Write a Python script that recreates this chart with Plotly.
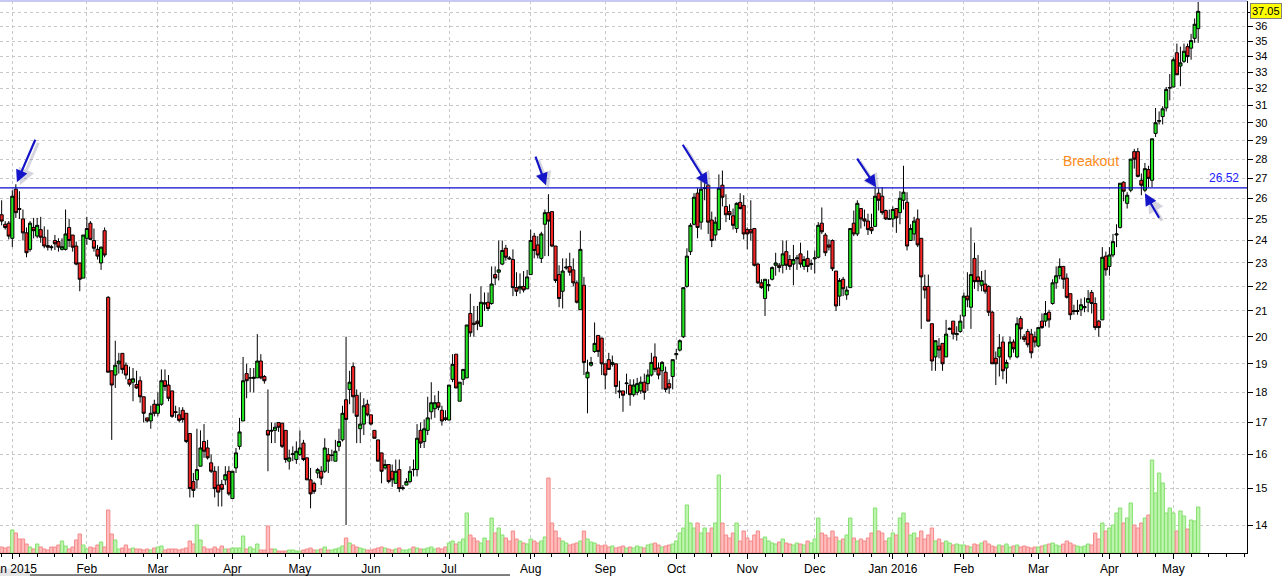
import math
import plotly.graph_objects as go

# 交易日數（每月），第一段為 2014 年 12 月最後三天
sessions_per_month = [3, 21, 20, 21, 19, 20, 22, 23, 21, 20, 20, 19, 22, 20, 21, 20, 18, 8]
month_labels = ['Jan 2015', 'Feb', 'Mar', 'Apr', 'May', 'Jun', 'Jul', 'Aug', 'Sep', 'Oct',
                'Nov', 'Dec', 'Jan 2016', 'Feb', 'Mar', 'Apr', 'May']
price_ticks = list(range(14, 38))

opens = [
    25.2, 24.75, 24.8, 24.1, 26.45, 25.5, 25.0, 24.35, 23.6, 24.6,
    24.2, 24.5, 24.15, 23.77, 23.72, 24.0, 23.95, 23.6, 23.6, 24.6,
    24.25, 23.75, 23.0, 22.35, 24.1, 24.8, 24.0, 23.6, 23.0, 24.45,
    21.55, 18.75, 18.6, 19.0, 19.38, 18.95, 18.45, 18.35, 18.27, 18.4,
    17.85, 17.15, 17.05, 17.6, 17.3, 17.6, 18.4, 18.25, 18.05, 17.35,
    17.25, 17.4, 17.3, 16.65, 15.2, 15.25, 15.65, 16.4, 16.2, 15.75,
    15.5, 15.1, 15.12, 15.25, 15.5, 14.72, 15.6, 16.25, 17.05, 18.65,
    18.5, 18.48, 18.5, 19.1, 18.55, 16.75, 16.75, 16.75, 17.0, 16.98,
    16.75, 15.8, 16.0, 15.85, 16.0, 16.35, 15.9, 15.25, 15.15, 15.45,
    15.5, 15.5, 16.0, 15.97, 15.8, 16.25, 16.45, 17.75, 18.1, 18.9,
    17.9, 16.8, 16.95, 17.6, 17.25, 16.75, 16.45, 16.05, 15.6, 15.7,
    15.5, 15.15, 15.55, 15.0, 15.1, 15.2, 15.56, 15.55, 16.75, 16.4,
    16.75, 17.35, 17.45, 17.65, 17.4, 17.15, 17.08, 18.45, 19.35, 17.7,
    18.45, 18.5, 20.9, 20.52, 20.6, 20.4, 21.28, 21.35, 21.3, 22.5,
    22.6, 22.95, 23.65, 23.22, 23.15, 21.95, 21.9, 22.0, 21.9, 22.5,
    24.2, 23.8, 23.2, 24.75, 25.3, 25.35, 23.75, 22.5, 21.8, 22.78,
    22.85, 22.7, 22.15, 21.05, 22.05, 18.5, 18.95, 19.45, 20.05, 19.95,
    19.0, 19.15, 18.98, 19.0, 18.05, 18.05, 18.3, 18.25, 17.92, 18.0,
    18.05, 18.35, 18.3, 18.6, 19.25, 18.85, 18.75, 18.7, 18.3, 18.55,
    19.33, 19.5, 20.0, 22.0, 23.5, 24.75, 26.25, 24.85, 26.48, 26.65,
    24.95, 24.25, 24.5, 26.65, 25.6, 25.35, 25.15, 24.55, 25.8, 25.65,
    24.5, 24.5, 24.55, 22.95, 22.15, 21.5, 22.03, 22.3, 22.9, 22.9,
    22.9, 23.5, 23.15, 22.95, 23.18, 23.4, 22.85, 23.2, 22.93, 23.18,
    23.25, 24.8, 24.25, 23.8, 24.0, 22.65, 21.6, 22.3, 21.65, 21.95,
    24.8, 24.3, 25.5, 25.0, 24.9, 24.6, 24.65, 26.25, 26.1, 25.4,
    24.98, 25.0, 25.5, 25.3, 25.9, 25.8, 24.0, 24.3, 25.0, 24.1,
    22.0, 22.0, 20.5, 19.25, 19.65, 19.75, 19.25, 20.28, 20.6, 20.08,
    20.2, 20.8, 21.6, 21.15, 23.2, 22.4, 22.05, 22.1, 22.0, 20.95,
    19.2, 19.25, 19.8, 18.85, 19.25, 19.8, 19.25, 20.7, 20.0, 20.2,
    20.1, 20.0, 19.65, 20.6, 20.6, 20.95, 21.3, 22.15, 22.45, 22.85,
    22.35, 21.7, 21.02, 20.98, 21.05, 21.13, 21.35, 21.75, 21.3, 20.6,
    20.65, 23.3, 22.85, 23.35, 24.25, 24.6, 26.8, 25.75, 26.4, 28.4,
    28.4, 26.9, 26.4, 27.45, 26.9, 29.4, 30.08, 30.35, 30.85, 32.03,
    32.1, 34.25, 33.4, 33.7, 34.65, 34.55, 35.2, 35.85,
]

highs = [
    25.9, 24.9, 24.9, 26.4, 26.7, 26.35, 25.45, 24.6, 24.9, 25.05,
    25.05, 25.1, 24.65, 24.5, 23.8, 24.25, 24.1, 24.1, 25.45, 25.0,
    24.25, 23.95, 23.0, 24.25, 25.1, 24.9, 24.55, 23.8, 23.72, 24.6,
    21.6, 18.75, 19.85, 19.4, 19.38, 19.05, 18.9, 18.85, 18.75, 18.55,
    17.85, 17.15, 17.55, 17.75, 18.0, 18.8, 18.8, 18.6, 18.05, 17.55,
    17.5, 17.5, 17.3, 16.65, 15.45, 16.8, 16.75, 16.95, 16.45, 16.0,
    15.65, 15.65, 15.25, 15.65, 15.65, 15.5, 16.2, 17.15, 19.25, 19.0,
    18.85, 18.85, 20.1, 19.35, 18.6, 18.1, 17.0, 17.0, 17.0, 16.98,
    16.75, 16.15, 16.25, 16.4, 16.75, 16.45, 15.9, 15.6, 15.2, 15.6,
    15.65, 16.5, 16.2, 16.15, 16.45, 16.8, 17.55, 20.0, 18.75, 19.05,
    18.1, 18.0, 17.8, 17.75, 17.25, 16.75, 16.45, 16.05, 15.85, 15.7,
    15.7, 15.85, 15.85, 15.1, 15.3, 15.65, 15.85, 16.95, 17.0, 17.1,
    17.85, 18.35, 17.9, 18.05, 17.55, 17.4, 18.25, 19.35, 19.35, 18.35,
    18.8, 20.45, 21.7, 21.2, 21.2, 22.0, 21.75, 21.75, 22.85, 22.85,
    24.0, 24.0, 23.8, 23.3, 23.6, 22.6, 22.55, 22.65, 22.7, 24.5,
    24.35, 24.2, 24.4, 25.45, 26.2, 25.35, 23.75, 22.9, 23.2, 23.2,
    23.45, 23.2, 22.25, 24.45, 22.4, 19.15, 19.25, 20.55, 20.05, 19.95,
    19.0, 19.4, 19.3, 19.0, 18.4, 18.05, 18.65, 18.45, 18.45, 18.5,
    18.55, 18.65, 18.8, 19.4, 19.75, 19.05, 19.1, 18.9, 18.45, 19.15,
    19.55, 19.9, 21.95, 23.65, 24.8, 26.25, 26.5, 26.9, 27.0, 26.7,
    25.35, 25.1, 27.2, 27.4, 26.2, 25.7, 25.5, 25.8, 26.25, 26.15,
    24.6, 25.9, 24.55, 23.0, 22.3, 22.3, 22.3, 22.85, 23.45, 23.0,
    24.0, 24.0, 23.35, 23.8, 23.35, 23.9, 23.3, 23.55, 23.15, 23.55,
    24.85, 25.55, 24.35, 24.05, 24.05, 22.65, 22.35, 22.4, 22.0, 24.55,
    25.4, 25.9, 25.5, 25.45, 25.25, 25.25, 26.55, 26.5, 26.55, 25.45,
    25.45, 25.6, 25.5, 26.35, 27.65, 26.3, 24.75, 25.1, 25.45, 24.1,
    22.5, 22.5, 20.5, 19.85, 19.95, 19.75, 20.65, 20.35, 20.6, 20.4,
    20.85, 21.75, 22.6, 24.6, 23.9, 23.35, 22.65, 22.7, 22.05, 21.0,
    19.45, 20.1, 20.0, 19.15, 20.0, 19.9, 20.75, 20.8, 20.1, 20.3,
    20.3, 20.2, 20.35, 20.9, 21.4, 21.05, 22.3, 22.85, 23.2, 22.85,
    22.55, 21.7, 21.25, 21.45, 21.5, 21.55, 21.85, 21.85, 21.55, 20.65,
    23.7, 23.5, 23.7, 24.3, 24.75, 26.75, 26.85, 26.3, 28.0, 28.55,
    28.6, 27.25, 27.8, 27.65, 29.1, 30.85, 30.65, 30.95, 32.1, 32.9,
    33.95, 34.85, 34.65, 34.85, 34.85, 35.5, 36.55, 37.75,
]

lows = [
    24.7, 24.5, 24.05, 23.7, 25.05, 25.0, 24.0, 23.25, 23.5, 24.1,
    24.1, 23.9, 23.65, 23.55, 23.55, 23.57, 23.5, 23.55, 23.55, 23.7,
    23.5, 22.9, 21.8, 22.35, 23.8, 24.05, 23.5, 23.15, 22.7, 23.25,
    18.7, 16.45, 18.15, 18.65, 18.65, 18.45, 18.2, 17.7, 18.12, 17.65,
    17.0, 17.0, 16.8, 17.2, 17.2, 17.55, 18.05, 17.7, 17.15, 17.15,
    17.0, 17.0, 16.35, 14.75, 14.75, 15.0, 15.65, 15.9, 15.85, 15.45,
    14.75, 14.5, 14.5, 15.1, 14.8, 14.72, 15.45, 16.15, 17.05, 17.8,
    18.0, 18.0, 18.5, 18.45, 18.3, 15.5, 16.35, 16.35, 16.7, 16.2,
    15.75, 15.55, 15.8, 15.72, 15.95, 15.8, 15.25, 14.45, 14.85, 15.3,
    15.1, 15.45, 15.45, 15.8, 15.8, 16.1, 16.4, 14.0, 17.6, 17.3,
    16.35, 16.35, 16.6, 17.2, 16.9, 16.5, 15.8, 15.15, 15.55, 15.15,
    15.05, 15.15, 14.9, 14.95, 15.1, 15.15, 15.35, 15.35, 16.2, 16.2,
    16.6, 17.1, 17.15, 17.4, 16.9, 17.05, 17.08, 18.35, 18.15, 17.7,
    18.25, 18.5, 20.0, 20.0, 20.25, 20.4, 21.0, 21.0, 21.25, 22.05,
    22.25, 22.9, 23.1, 23.15, 21.6, 21.6, 21.7, 21.75, 21.9, 22.5,
    23.2, 23.2, 23.0, 23.3, 23.3, 23.7, 22.15, 21.15, 21.1, 22.7,
    22.45, 22.0, 21.3, 21.05, 18.6, 17.3, 18.9, 19.4, 19.25, 18.6,
    18.1, 18.8, 18.9, 17.95, 17.8, 17.35, 17.95, 17.55, 17.85, 17.9,
    17.95, 17.75, 18.05, 18.55, 18.7, 18.45, 18.1, 18.0, 17.95, 18.1,
    19.15, 19.45, 19.95, 21.95, 23.35, 24.7, 24.1, 24.5, 25.9, 24.3,
    23.7, 24.0, 24.45, 25.6, 24.85, 24.95, 24.5, 24.35, 25.45, 24.05,
    23.6, 24.0, 22.85, 22.1, 21.9, 20.8, 21.8, 22.25, 22.45, 22.6,
    22.55, 22.7, 22.7, 22.05, 22.7, 22.8, 22.7, 22.6, 22.7, 22.55,
    23.2, 24.3, 23.3, 23.55, 22.65, 21.0, 21.2, 21.6, 21.45, 21.95,
    24.2, 24.2, 24.55, 24.65, 24.25, 24.3, 24.65, 25.4, 25.2, 24.95,
    24.95, 24.6, 24.35, 24.75, 25.45, 23.55, 24.0, 24.0, 23.7, 20.3,
    21.5, 20.6, 18.75, 18.75, 19.2, 18.75, 19.25, 20.25, 19.9, 19.85,
    20.15, 20.3, 21.15, 20.3, 21.9, 21.8, 21.8, 21.7, 20.8, 19.0,
    18.25, 18.55, 18.45, 18.3, 19.15, 19.4, 19.2, 19.9, 19.8, 19.6,
    19.2, 19.6, 19.6, 20.3, 20.4, 20.35, 21.25, 21.9, 22.3, 21.9,
    21.5, 20.65, 20.85, 20.85, 20.8, 20.95, 20.95, 20.9, 20.25, 20.0,
    20.65, 22.45, 22.45, 23.25, 23.7, 24.55, 25.85, 25.5, 26.3, 27.5,
    27.05, 26.15, 26.3, 26.55, 26.55, 29.2, 29.9, 29.9, 30.65, 31.3,
    32.1, 32.85, 32.15, 33.6, 33.6, 33.8, 34.9, 34.9,
]

closes = [
    24.9, 24.6, 24.2, 26.1, 25.3, 25.45, 24.35, 23.45, 24.8, 24.45,
    24.7, 24.15, 23.75, 23.7, 23.68, 23.85, 23.7, 23.72, 24.3, 24.0,
    23.7, 22.95, 22.3, 24.25, 24.55, 24.05, 23.65, 23.3, 23.7, 23.35,
    18.7, 18.25, 18.95, 19.1, 18.8, 18.6, 18.28, 18.47, 18.15, 17.85,
    17.3, 17.05, 17.3, 17.3, 17.6, 18.4, 18.2, 17.8, 17.2, 17.33,
    17.07, 17.1, 16.4, 15.0, 14.95, 15.55, 16.2, 16.1, 15.9, 15.5,
    15.0, 14.9, 14.98, 15.4, 14.85, 15.5, 16.05, 16.7, 18.4, 18.4,
    18.5, 18.52, 19.1, 18.5, 18.4, 16.6, 16.73, 16.85, 16.85, 16.25,
    15.85, 15.9, 16.02, 16.1, 16.2, 15.85, 15.25, 14.85, 14.92, 15.55,
    15.3, 16.2, 15.8, 15.98, 16.1, 16.4, 17.3, 17.1, 18.35, 17.85,
    17.2, 16.95, 17.55, 17.25, 16.95, 16.5, 15.8, 15.5, 15.7, 15.2,
    15.25, 15.5, 15.0, 15.02, 15.2, 15.5, 15.55, 16.5, 16.35, 16.8,
    17.15, 17.65, 17.65, 17.5, 17.05, 17.1, 18.25, 18.98, 18.15, 18.35,
    18.8, 20.45, 20.15, 20.48, 20.5, 21.35, 21.32, 21.1, 22.1, 22.35,
    22.7, 23.55, 23.25, 23.18, 21.95, 21.8, 22.0, 21.85, 22.4, 24.0,
    23.55, 23.35, 24.3, 25.3, 24.9, 23.75, 22.25, 21.5, 22.65, 22.82,
    22.6, 22.15, 21.35, 23.6, 19.05, 18.7, 19.05, 19.75, 19.45, 19.0,
    18.6, 18.8, 19.05, 18.2, 18.02, 17.9, 18.32, 17.92, 18.25, 18.3,
    18.35, 18.0, 18.6, 19.05, 18.8, 18.6, 19.05, 18.1, 18.15, 19.15,
    19.37, 19.85, 21.95, 23.3, 24.7, 26.05, 24.6, 26.45, 26.52, 24.85,
    24.0, 24.85, 26.5, 26.05, 25.2, 25.2, 24.7, 25.75, 25.5, 24.3,
    24.3, 24.35, 22.9, 22.15, 21.95, 22.3, 22.07, 22.8, 23.0, 22.8,
    23.4, 22.9, 22.85, 23.15, 23.22, 22.95, 23.15, 22.85, 22.97, 23.22,
    24.7, 24.4, 23.45, 23.7, 22.75, 21.2, 22.25, 21.9, 21.85, 24.55,
    24.3, 25.75, 25.0, 24.9, 24.5, 24.45, 26.1, 25.9, 25.3, 25.0,
    25.02, 25.45, 25.05, 26.0, 26.3, 23.75, 24.55, 24.9, 23.8, 22.4,
    21.85, 20.6, 19.1, 19.85, 19.5, 19.0, 20.1, 20.32, 20.1, 20.12,
    20.6, 21.6, 21.45, 22.5, 22.2, 22.2, 22.25, 21.8, 20.95, 19.0,
    19.0, 19.6, 18.75, 19.05, 19.8, 19.55, 20.5, 20.3, 19.9, 19.7,
    19.4, 19.8, 20.35, 20.35, 20.9, 20.65, 22.15, 22.45, 22.85, 22.3,
    21.55, 20.85, 20.98, 21.02, 21.25, 21.17, 21.5, 21.3, 20.35, 20.35,
    23.25, 22.7, 23.35, 23.95, 24.3, 26.75, 26.35, 26.15, 28.0, 28.0,
    27.1, 26.65, 27.5, 27.0, 29.1, 30.0, 30.12, 30.8, 31.95, 32.07,
    33.8, 32.85, 33.6, 34.35, 34.0, 35.05, 36.15, 37.05,
]

# 成交量（萬股）
volumes = [
    6, 5, 6, 23, 20, 14, 14, 9, 6, 4, 9, 6, 4, 3, 6, 6, 8, 12, 7, 4,
    6, 13, 19, 8, 4, 6, 5, 8, 11, 6, 43, 19, 13, 4, 5, 8, 4, 5, 4, 4,
    3, 4, 3, 5, 6, 7, 3, 4, 4, 4, 3, 4, 5, 12, 9, 28, 13, 6, 4, 4,
    6, 4, 7, 4, 4, 5, 5, 5, 17, 4, 6, 4, 9, 3, 3, 27, 4, 4, 2, 2,
    2, 3, 3, 2, 2,
    3, 4, 5, 3, 3, 4, 6, 3, 3, 4, 5, 7, 15, 10, 8, 6, 5, 4, 3,
    3, 4, 5, 6, 5, 4, 3, 4, 5, 3, 3, 4, 6, 5, 4, 4, 5, 6, 4, 5, 4, 6,
    10, 12, 9, 11, 14, 40, 18, 15, 12, 10, 15, 12, 35, 20, 25, 18, 15, 12, 22, 14, 12, 10, 9,
    14, 12, 10, 12, 16, 75, 30, 22, 15, 12, 10, 8, 9, 10, 12, 22, 14, 11, 10, 8, 7,
    8, 6, 7, 5, 6, 7, 5, 6, 5, 7, 6, 5, 8, 9, 10, 8, 6, 7, 8, 9,
    12, 20, 25, 48, 30, 25, 30, 20, 25, 20, 25, 30, 78, 30, 18, 15, 20, 30, 12, 22,
    15, 12, 18, 22, 14, 16, 12, 10, 9, 11, 14, 10, 9, 8, 10, 9, 8, 12, 10,
    14, 35, 20, 18, 15, 22, 16, 12, 14, 18, 35, 15, 12, 14, 12, 15, 20, 45, 22, 20, 12, 15,
    20, 18, 35, 40, 30, 18, 20, 15, 22, 14, 18, 25, 12, 14, 10, 12, 10, 8, 9, 8,
    8, 7, 6, 9, 8, 10, 12, 9, 7, 6, 8, 7, 9, 6, 7, 8, 6, 7, 6, 5, 6,
    6, 7, 8, 9, 10, 8, 7, 9, 12, 10, 8, 7, 6, 7, 9, 8, 20, 14, 30, 22,
    25, 28, 40, 45, 30, 35, 50, 28, 25, 30, 35, 38, 93, 60, 80, 70, 40, 45,
    40, 22, 42, 37, 24, 33, 32, 46,
]

resistance = 26.52
last_price = 37.05

n = len(closes)
assert len(opens) == n and len(highs) == n and len(lows) == n and len(volumes) == n, \
    (len(opens), len(highs), len(lows), len(closes), len(volumes))

days = list(range(n))
highs = [max(h, o, c) for h, o, c in zip(highs, opens, closes)]
lows = [min(l, o, c) for l, o, c in zip(lows, opens, closes)]

# 每月第一個交易日的位置
month_starts = []
pos = 0
for cnt in sessions_per_month[:-1]:
    pos += cnt
    month_starts.append(pos)

up = [c >= o for o, c in zip(opens, closes)]
vol_fill = ['#bdf5ae' if u else '#ffbdbd' for u in up]
vol_line = ['#86e06e' if u else '#f58a8a' for u in up]

fig = go.Figure()

# 成交量（疊在底部）
fig.add_trace(go.Bar(
    x=days, y=volumes, yaxis='y2',
    marker=dict(color=vol_fill, line=dict(color=vol_line, width=1)),
    width=0.95, showlegend=False, hoverinfo='skip'
))

# K 線
fig.add_trace(go.Candlestick(
    x=days, open=opens, high=highs, low=lows, close=closes,
    increasing=dict(fillcolor='#22e622', line=dict(color='#000000', width=1)),
    decreasing=dict(fillcolor='#f22424', line=dict(color='#000000', width=1)),
    whiskerwidth=0, showlegend=False
))

grid = dict(showgrid=True, gridcolor='#c8c8c8', gridwidth=1, griddash='3px,3px')

# 37 的刻度文字被最新價標籤蓋住
y_ticktext = [str(t) if t != 37 else '' for t in price_ticks]

fig.update_layout(
    width=1286, height=576,
    margin=dict(l=0, r=39, t=1, b=23, autoexpand=False),
    paper_bgcolor='white', plot_bgcolor='white',
    font=dict(family='Liberation Sans, Arial, sans-serif', size=12, color='black'),
    showlegend=False,
    boxgap=0.12, boxgroupgap=0,
    xaxis=dict(
        range=[-0.465, 350.75],
        tickvals=month_starts, ticktext=month_labels,
        ticks='outside', ticklen=5, tickcolor='black',
        ticklabeloverflow='allow', automargin=False,
        minor=dict(dtick=5, tick0=0, ticks='outside', ticklen=3, tickcolor='black', showgrid=False),
        showline=True, linecolor='black', linewidth=1,
        zeroline=False, rangeslider=dict(visible=False),
        tickfont=dict(size=12),
        **grid
    ),
    yaxis=dict(
        type='log', side='right',
        range=[1.12310, 1.57726],
        tickvals=price_ticks, ticktext=y_ticktext,
        ticks='outside', ticklen=5, tickcolor='black',
        showline=True, linecolor='black', linewidth=1,
        zeroline=False, tickfont=dict(size=11), automargin=False,
        **grid
    ),
    yaxis2=dict(
        overlaying='y', range=[0, 552], visible=False, fixedrange=True
    ),
)

# 壓力線 26.52
fig.add_shape(type='line', xref='paper', x0=0, x1=1, yref='y', y0=resistance, y1=resistance,
              line=dict(color='#0a0acc', width=1.3))
# 頂部淡紫邊線
fig.add_shape(type='line', xref='paper', x0=0, x1=1, yref='paper', y0=1, y1=1,
              line=dict(color='#c8c8f4', width=2))
# 底部捲軸
fig.add_shape(type='rect', xref='paper', x0=-0.01, x1=0.024, yref='paper', y0=-0.06, y1=-0.028,
              line=dict(width=0), fillcolor='#e6e6e6', layer='below')
fig.add_shape(type='line', xref='paper', x0=0.024, x1=0.409, yref='paper', y0=-0.0399, y1=-0.0399,
              line=dict(color='black', width=1), layer='below')

# 對數軸上的註解要用 log10 座標
fig.add_annotation(xref='paper', x=0.9952, y=math.log10(resistance), yref='y', text='26.52',
                   showarrow=False, xanchor='right', yanchor='bottom', yshift=1,
                   font=dict(color='#2222ff', size=12))
fig.add_annotation(x=306.8, y=math.log10(27.9), text='Breakout', showarrow=False,
                   font=dict(color='#ff8c1a', size=14))
fig.add_annotation(xref='paper', x=1.0025, y=math.log10(last_price), yref='y', text='37.05',
                   showarrow=False, xanchor='left', yanchor='middle',
                   bgcolor='#ffff00', bordercolor='#808080', borderwidth=1, borderpad=1,
                   font=dict(color='black', size=11))

# 藍色箭頭（含陰影）
arrows = [
    (4.3, 26.8, 19, -44),
    (153.3, 26.65, -11, -30),
    (198.9, 26.65, -26, -42),
    (246.3, 26.55, -20, -30),
    (322.0, 26.25, 15, 26),
]
for ax_, ay_, dx, dy in arrows:
    fig.add_annotation(x=ax_, y=math.log10(ay_), ax=dx, ay=dy, text='', showarrow=True,
                       arrowhead=2, arrowsize=1.1, arrowwidth=3,
                       arrowcolor='rgba(120,120,150,0.3)', xshift=3, yshift=-3)
    fig.add_annotation(x=ax_, y=math.log10(ay_), ax=dx, ay=dy, text='', showarrow=True,
                       arrowhead=2, arrowsize=1.1, arrowwidth=2.2, arrowcolor='#1414c8')

# 去掉頁面預設邊距，讓圖貼齊視窗左上角
fig.write_html('out.html', config={'displayModeBar': False},
               post_script="document.body.style.margin='0';document.body.style.overflow='hidden';")
